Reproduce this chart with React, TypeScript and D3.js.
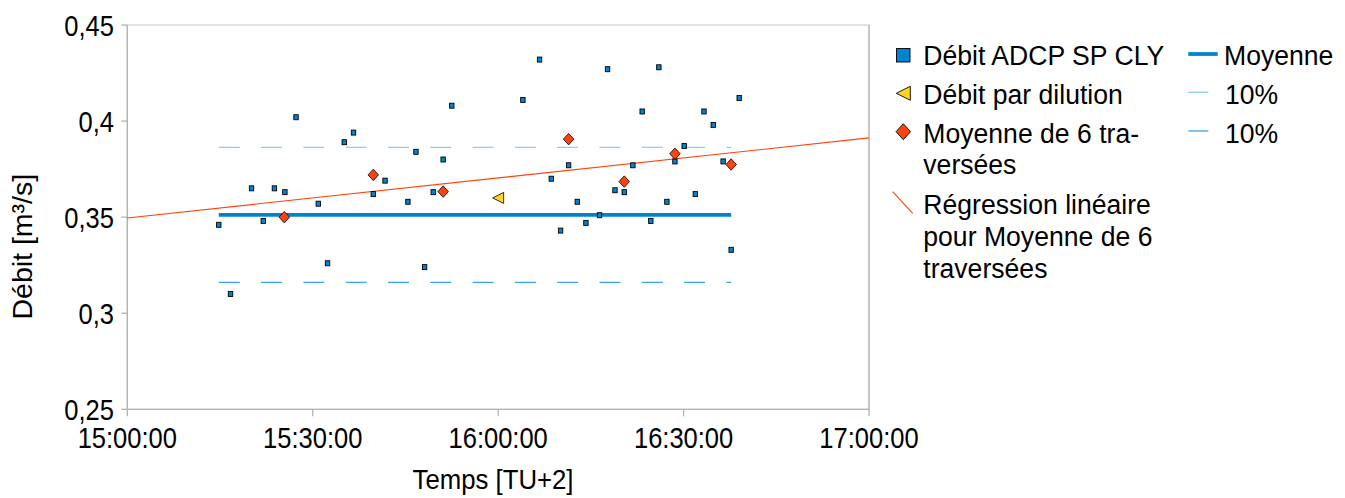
import React from "react";
import * as d3 from "d3";

// ---- data ----
const adcpTimes = [
  "15:14:48", "15:16:42", "15:20:06", "15:22:00", "15:23:48", "15:25:30", "15:27:18",
  "15:30:54", "15:32:24", "15:35:06", "15:36:36", "15:39:48", "15:41:42", "15:45:24",
  "15:46:42", "15:48:06", "15:49:30", "15:51:06", "15:52:30", "16:04:00", "16:06:42",
  "16:08:36", "16:10:06", "16:11:24", "16:12:48", "16:14:12", "16:16:24", "16:17:42",
  "16:18:54", "16:20:24", "16:21:48", "16:23:18", "16:24:42", "16:26:00", "16:27:18",
  "16:28:36", "16:30:06", "16:31:54", "16:33:18", "16:34:48", "16:36:24", "16:37:42",
  "16:39:00",
];
const adcpValues = [
  0.346, 0.310, 0.365, 0.348, 0.365, 0.363, 0.402,
  0.357, 0.326, 0.389, 0.394, 0.362, 0.369, 0.358,
  0.384, 0.324, 0.363, 0.380, 0.408, 0.411, 0.432,
  0.370, 0.343, 0.377, 0.358, 0.347, 0.351, 0.427,
  0.364, 0.363, 0.377, 0.405, 0.348, 0.428, 0.358,
  0.379, 0.387, 0.362, 0.405, 0.398, 0.379, 0.333,
  0.412,
];
const dilutionTimes = ["16:00:00"];
const dilutionValues = [0.36];
const avg6Times = ["15:25:24", "15:39:48", "15:51:06", "16:11:24", "16:20:24", "16:28:36", "16:37:42"];
const avg6Values = [0.350, 0.372, 0.3633, 0.3906, 0.3685, 0.383, 0.3774];
const moyenneValue = 0.3512;
const moyenneSpan = ["15:14:48", "16:37:42"];
const bandFactors = [1.1, 0.9];
const xDomain = ["15:00:00", "17:00:00"];
const xTicks = ["15:00:00", "15:30:00", "16:00:00", "16:30:00", "17:00:00"];
const yTicks = [0.25, 0.3, 0.35, 0.4, 0.45];
const yTickLabels = ["0,25", "0,3", "0,35", "0,4", "0,45"];

const parse = d3.timeParse("%H:%M:%S");
const FONT = "'Liberation Sans', Arial, sans-serif";

const C_BLUE = "#0084d1";
const C_YEL = "#ffd320";
const C_RED = "#ff420e";
const C_BAND1 = "#8fcdf2";
const C_BAND2 = "#3aa6e8";
const C_AXIS = "#b3b3b3";

function Txt({ x, y, size, sx = 1, anchor = "start", children }: any) {
  return (
    <g transform={`translate(${x},${y}) scale(${sx},1)`}>
      <text x={0} y={0} fontSize={size} textAnchor={anchor} fontFamily={FONT} fill="#000">
        {children}
      </text>
    </g>
  );
}

export default function App() {
  const L = 127.3, R = 869, T = 25, B = 409.3;
  const x = d3.scaleTime().domain(xDomain.map((s) => parse(s) as Date)).range([L, R]);
  const y = d3.scaleLinear().domain([0.25, 0.45]).range([B, T]);

  // linear regression on the 6-crossing averages
  const rx = avg6Times.map((s) => (parse(s) as Date).getTime());
  const mx = d3.mean(rx) as number;
  const my = d3.mean(avg6Values) as number;
  let sxy = 0, sxx = 0;
  rx.forEach((v, i) => { sxy += (v - mx) * (avg6Values[i] - my); sxx += (v - mx) * (v - mx); });
  const slope = sxy / sxx;
  const d0 = x.domain()[0].getTime(), d1 = x.domain()[1].getTime();
  const reg0 = my + slope * (d0 - mx);
  const reg1 = my + slope * (d1 - mx);

  const mx0 = x(parse(moyenneSpan[0]) as Date);
  const mx1 = x(parse(moyenneSpan[1]) as Date);

  const tickFont = 29, tickSx = 0.88;
  const legFont = 28, legSx = 0.95;

  const diamond = (cx: number, cy: number, w: number, h: number) =>
    `M${cx},${cy - h / 2}L${cx + w / 2},${cy}L${cx},${cy + h / 2}L${cx - w / 2},${cy}Z`;
  const triLeft = (cx: number, cy: number, s: number) =>
    `M${cx - s / 2},${cy}L${cx + s / 2},${cy - s / 2}L${cx + s / 2},${cy + s / 2}Z`;

  return (
    <svg width={1345} height={498} style={{ position: "absolute", left: 0, top: 0, background: "#fff" }}>
      {/* frame */}
      <rect x={L} y={T} width={R - L} height={B - T} fill="none" stroke="#d0d0d0" strokeWidth={1.2} />
      <line x1={L} x2={L} y1={T} y2={B} stroke={C_AXIS} strokeWidth={1.3} />
      <line x1={L} x2={R} y1={B} y2={B} stroke={C_AXIS} strokeWidth={1.3} />
      <line x1={R} x2={R} y1={T} y2={B} stroke={C_AXIS} strokeWidth={1.2} />
      {/* y ticks */}
      {yTicks.map((v, i) => (
        <g key={"yt" + i}>
          <line x1={L - 6} x2={L} y1={y(v)} y2={y(v)} stroke={C_AXIS} strokeWidth={1.3} />
          <Txt x={114} y={y(v) + 10.5} size={tickFont} sx={tickSx} anchor="end">{yTickLabels[i]}</Txt>
        </g>
      ))}
      {/* x ticks */}
      {xTicks.map((s, i) => {
        const xv = x(parse(s) as Date);
        return (
          <g key={"xt" + i}>
            <line x1={xv} x2={xv} y1={B} y2={B + 7} stroke={C_AXIS} strokeWidth={1.3} />
            <Txt x={xv} y={448} size={tickFont} sx={tickSx} anchor="middle">{s}</Txt>
          </g>
        );
      })}
      {/* axis titles */}
      <Txt x={493} y={489.3} size={28} sx={0.92} anchor="middle">Temps [TU+2]</Txt>
      <text transform={`translate(32.3,246.7) rotate(-90)`} fontSize={28.5} textAnchor="middle" fontFamily={FONT}>
        Débit [m³/s]
      </text>

      {/* bands */}
      {bandFactors.map((f, i) => (
        <line key={"b" + i} x1={mx0} x2={mx1} y1={y(moyenneValue * f)} y2={y(moyenneValue * f)}
          stroke={i === 0 ? C_BAND1 : C_BAND2} strokeWidth={1.3} strokeDasharray="21,21.3" />
      ))}
      {/* regression */}
      <line x1={L} x2={R} y1={y(reg0)} y2={y(reg1)} stroke={C_RED} strokeWidth={1.1} />
      {/* moyenne */}
      <line x1={mx0} x2={mx1} y1={y(moyenneValue)} y2={y(moyenneValue)} stroke={C_BLUE} strokeWidth={3.8} />

      {/* ADCP squares */}
      {adcpTimes.map((s, i) => {
        const cx = x(parse(s) as Date), cy = y(adcpValues[i]);
        return <rect key={"a" + i} x={cx - 2.2} y={cy - 2.5} width={4.4} height={5} fill={C_BLUE} stroke="#000" strokeWidth={0.9} />;
      })}
      {/* dilution */}
      {dilutionTimes.map((s, i) => (
        <path key={"d" + i} d={triLeft(x(parse(s) as Date), y(dilutionValues[i]), 11)} fill={C_YEL} stroke="#000" strokeWidth={0.8} />
      ))}
      {/* avg of 6 */}
      {avg6Times.map((s, i) => (
        <path key={"m" + i} d={diamond(x(parse(s) as Date), y(avg6Values[i]), 10.5, 11.5)} fill={C_RED} stroke="#000" strokeWidth={0.8} />
      ))}

      {/* legend */}
      <rect x={896.5} y={48.5} width={13.5} height={13.5} fill={C_BLUE} stroke="#000" strokeWidth={0.9} />
      <Txt x={923.3} y={65} size={legFont} sx={legSx}>Débit ADCP SP CLY</Txt>
      <path d={triLeft(903.3, 93.3, 14)} fill={C_YEL} stroke="#000" strokeWidth={0.9} />
      <Txt x={923.3} y={104} size={legFont} sx={legSx}>Débit par dilution</Txt>
      <path d={diamond(903.3, 131.7, 14.5, 16)} fill={C_RED} stroke="#000" strokeWidth={0.9} />
      <Txt x={923.3} y={143} size={legFont} sx={legSx}>Moyenne de 6 tra-</Txt>
      <Txt x={923.3} y={174} size={legFont} sx={legSx}>versées</Txt>
      <line x1={892.7} y1={191.7} x2={912.7} y2={213.3} stroke={C_RED} strokeWidth={1.1} />
      <Txt x={923.3} y={214} size={legFont} sx={legSx}>Régression linéaire</Txt>
      <Txt x={923.3} y={246} size={legFont} sx={legSx}>pour Moyenne de 6</Txt>
      <Txt x={923.3} y={278} size={legFont} sx={legSx}>traversées</Txt>

      <line x1={1188.3} x2={1217.7} y1={54} y2={54} stroke={C_BLUE} strokeWidth={3.8} />
      <Txt x={1224} y={65} size={legFont} sx={legSx}>Moyenne</Txt>
      <line x1={1188.3} x2={1208.3} y1={92.3} y2={92.3} stroke={C_BAND1} strokeWidth={1.3} />
      <Txt x={1225} y={104} size={legFont} sx={legSx}>10%</Txt>
      <line x1={1188.3} x2={1208.3} y1={131} y2={131} stroke={C_BAND2} strokeWidth={1.3} />
      <Txt x={1225} y={143} size={legFont} sx={legSx}>10%</Txt>
    </svg>
  );
}
